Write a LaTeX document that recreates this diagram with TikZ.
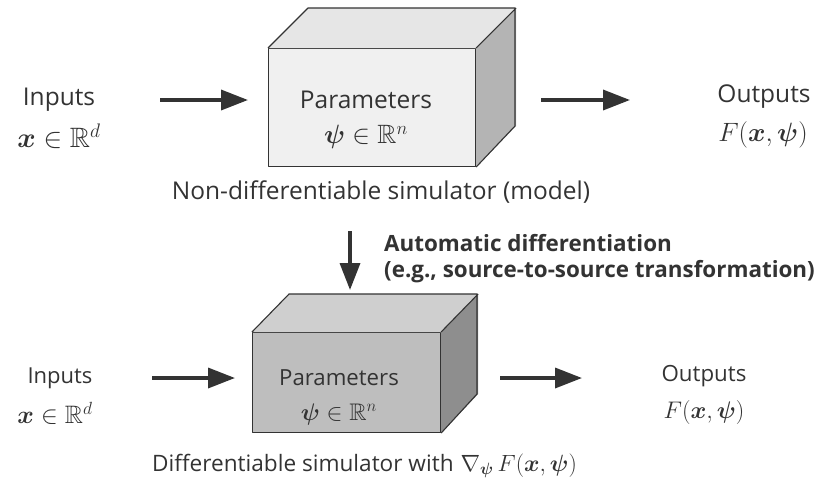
\documentclass[tikz,border=0pt]{standalone}
\usepackage{fix-cm}
\usepackage{amsmath,amssymb}
\usepackage{fontspec}
\setmainfont{Open Sans}
\usetikzlibrary{arrows.meta}
\definecolor{ink}{HTML}{333333}
\definecolor{lightfront}{HTML}{F0F0F0}
\definecolor{lighttop}{HTML}{E6E6E6}
\definecolor{lightside}{HTML}{B4B4B4}
\definecolor{darkfront}{HTML}{BEBEBE}
\definecolor{darktop}{HTML}{CFCFCF}
\definecolor{darkside}{HTML}{8E8E8E}
\newcommand{\fsz}[1]{\fontsize{#1}{1.2\dimexpr#1pt\relax}\selectfont}
\tikzset{
  face/.style={draw=ink, line width=1.1pt, line join=round},
  label/.style={inner sep=0pt, text=ink},
  flow/.style={draw=ink, line width=3.5pt, -{Triangle[length=27pt,width=20pt]}},
}
\begin{document}
\begin{tikzpicture}[x=1pt,y=-1pt]
\useasboundingbox (0,0) rectangle (818,485);

% ---- non-differentiable simulator ----
\node[face, fill=lightfront, minimum width=207pt, minimum height=118pt, anchor=north west, inner sep=0pt] (simA) at (268,48) {};
\fill[lighttop] (simA.north west) -- ++(40,-40) -- ++(207,0) -- (simA.north east) -- cycle;
\fill[lightside] (simA.north east) -- ++(40,-40) -- ++(0,118) -- (simA.south east) -- cycle;
\draw[face] (simA.north west) -- ++(40,-40) -- ++(207,0) -- ++(0,118) -- (simA.south east)
            (simA.north east) -- ++(40,-40);
\node[label, font=\fsz{24.5}] (parA) at (366,100) {Parameters};
\node[label, font=\fsz{26.5}] (psiA) at (366,137) {$\boldsymbol{\psi}\in\mathbb{R}^n$};
\node[label, font=\fsz{24.5}] (capA) at (381,192) {Non-differentiable simulator (model)};

\node[label, font=\fsz{24.5}] (inA) at (59,100) {Inputs};
\node[label, font=\fsz{28}] (xA) at (59,136) {$\boldsymbol{x}\in\mathbb{R}^d$};
\node[label, font=\fsz{24.5}] (outA) at (764,97) {Outputs};
\node[label, font=\fsz{26.5}] (fA) at (763,135) {$F(\boldsymbol{x},\boldsymbol{\psi})$};

\coordinate (a1) at (160,100); \coordinate (a2) at (248,100);
\coordinate (a3) at (541,100); \coordinate (a4) at (630,100);
\draw[flow] (a1) -- (a2);
\draw[flow] (a3) -- (a4);

% ---- transformation arrow ----
\coordinate (d1) at (350,231); \coordinate (d2) at (350,290);
\draw[flow] (d1) -- (d2);
\node[label, anchor=north west, align=left, font=\fontsize{22.4}{26.5}\selectfont\bfseries] (adlab) at (384,234)
  {Automatic differentiation\\(e.g., source-to-source transformation)};

% ---- differentiable simulator ----
\node[face, fill=darkfront, minimum width=188pt, minimum height=100pt, anchor=north west, inner sep=0pt] (simB) at (252,332) {};
\fill[darktop] (simB.north west) -- ++(37,-38) -- ++(188,0) -- (simB.north east) -- cycle;
\fill[darkside] (simB.north east) -- ++(37,-38) -- ++(0,100) -- (simB.south east) -- cycle;
\draw[face] (simB.north west) -- ++(37,-38) -- ++(188,0) -- ++(0,100) -- (simB.south east)
            (simB.north east) -- ++(37,-38);
\node[label, font=\fsz{22.2}] (parB) at (339,378) {Parameters};
\node[label, font=\fsz{24}] (psiB) at (339,414) {$\boldsymbol{\psi}\in\mathbb{R}^n$};
\node[label, font=\fsz{22.6}, anchor=west] (capB) at (152,466)
  {Differentiable simulator with\hspace{7pt}\fontsize{23.5}{28}\selectfont$\nabla_{\boldsymbol{\psi}}\, F(\boldsymbol{x},\boldsymbol{\psi})$};

\node[label, font=\fsz{22}] (inB) at (60,378) {Inputs};
\node[label, font=\fsz{25.2}] (xB) at (55,413) {$\boldsymbol{x}\in\mathbb{R}^d$};
\node[label, font=\fsz{22.3}] (outB) at (704,376) {Outputs};
\node[label, font=\fsz{24}] (fB) at (704,412) {$F(\boldsymbol{x},\boldsymbol{\psi})$};

\coordinate (b1) at (152,378); \coordinate (b2) at (235,378);
\coordinate (b3) at (500,378); \coordinate (b4) at (582,378);
\draw[flow] (b1) -- (b2);
\draw[flow] (b3) -- (b4);
\end{tikzpicture}
\end{document}
